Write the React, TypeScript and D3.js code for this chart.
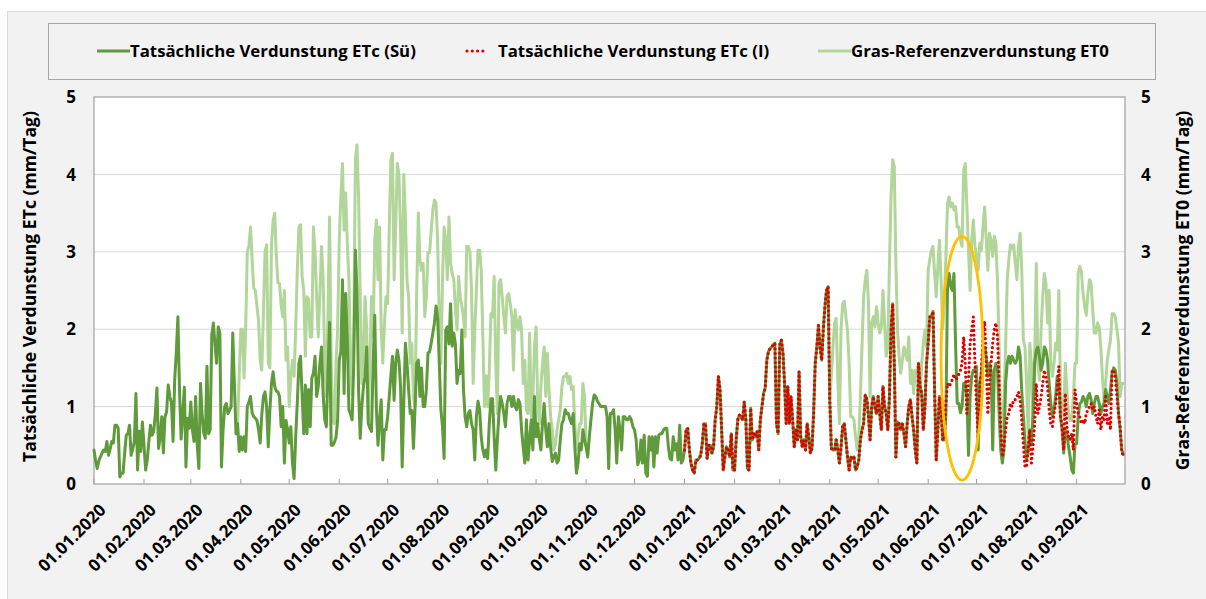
import * as d3 from "d3";

// daily values, mm/Tag
// ETc (Sü) 01.01.2020 - 31.12.2020
const etcSu2020 = [
  // Jan
  0.44, 0.30, 0.20, 0.30, 0.35, 0.40, 0.44, 0.42, 0.55, 0.37, 0.45, 0.55, 0.53, 0.76, 0.76, 0.72, 0.09, 0.14, 0.14, 0.40, 0.63, 0.65, 0.76, 0.37, 0.45, 0.55, 1.17, 0.18, 0.68, 0.42, 0.80,
  // Feb
  0.50, 0.18, 0.31, 0.55, 0.76, 0.63, 0.68, 0.90, 1.24, 0.46, 0.60, 0.87, 0.40, 0.87, 0.93, 1.28, 1.13, 1.05, 0.55, 1.34, 1.70, 2.16, 1.20, 0.58, 0.90, 1.25, 0.22, 0.85, 0.72,
  // Mar
  1.06, 0.70, 0.55, 1.13, 0.50, 0.20, 1.30, 0.90, 0.66, 0.59, 1.52, 0.65, 0.70, 1.93, 2.08, 1.80, 1.56, 2.03, 1.95, 0.22, 0.70, 1.00, 1.04, 0.91, 0.95, 1.00, 1.95, 1.30, 0.65, 0.78, 0.42,
  // Apr
  0.61, 0.44, 0.61, 0.42, 1.00, 1.06, 1.13, 0.92, 0.87, 0.85, 0.82, 0.70, 0.53, 0.90, 1.13, 1.19, 1.00, 0.48, 0.95, 1.30, 1.45, 1.26, 1.20, 1.19, 1.13, 0.74, 1.00, 0.27, 0.82, 0.70,
  // May
  0.53, 0.74, 0.27, 0.07, 0.60, 1.06, 1.56, 1.65, 1.13, 0.65, 1.28, 0.65, 1.22, 0.74, 1.37, 1.43, 1.65, 1.13, 1.26, 1.56, 1.77, 1.17, 0.83, 0.74, 1.43, 2.09, 0.50, 0.50, 0.54, 0.60, 0.83,
  // Jun
  1.60, 1.71, 2.64, 1.17, 2.46, 1.90, 0.96, 0.90, 0.83, 1.56, 3.02, 2.50, 1.20, 0.59, 1.00, 1.26, 1.39, 1.77, 0.78, 0.72, 0.68, 1.56, 2.18, 1.00, 0.50, 0.83, 1.09, 0.31, 0.70, 0.70,
  // Jul
  0.87, 1.13, 1.40, 1.65, 1.08, 1.56, 1.73, 1.60, 1.26, 0.22, 1.04, 1.82, 1.56, 1.22, 0.91, 0.95, 0.46, 1.00, 1.56, 1.60, 1.13, 1.50, 1.00, 1.00, 1.22, 1.69, 1.71, 1.82, 1.95, 2.08, 2.30,
  // Aug
  2.15, 1.56, 0.96, 0.74, 0.33, 1.99, 2.03, 1.81, 2.33, 1.78, 1.95, 1.81, 1.30, 1.47, 1.43, 1.99, 1.22, 0.87, 0.74, 0.91, 0.95, 0.78, 0.70, 0.31, 0.87, 1.07, 0.96, 0.60, 0.44, 0.35, 0.44,
  // Sep
  0.33, 0.78, 1.10, 1.10, 0.61, 0.18, 0.57, 0.91, 1.13, 1.04, 0.91, 0.74, 1.04, 1.13, 1.13, 1.00, 1.13, 1.00, 0.96, 1.09, 1.04, 0.70, 0.48, 0.27, 0.83, 0.31, 0.57, 0.83, 0.44, 1.13,
  // Oct
  0.61, 0.78, 0.57, 0.44, 0.80, 1.04, 0.70, 0.48, 0.78, 0.48, 0.29, 0.35, 0.40, 0.27, 0.31, 0.57, 0.78, 0.83, 0.96, 0.91, 0.91, 0.83, 0.78, 0.91, 0.48, 0.14, 0.27, 0.52, 0.44, 0.70, 0.57,
  // Nov
  0.48, 0.35, 0.61, 0.83, 1.04, 1.15, 1.13, 1.07, 1.04, 1.00, 1.00, 1.00, 1.00, 0.87, 0.20, 0.91, 0.91, 0.96, 0.70, 0.27, 0.87, 0.70, 0.44, 0.87, 0.87, 0.83, 0.83, 0.87, 0.83, 0.74,
  // Dec
  0.70, 0.57, 0.25, 0.31, 0.57, 0.27, 0.63, 0.14, 0.10, 0.61, 0.44, 0.61, 0.22, 0.61, 0.40, 0.63, 0.65, 0.65, 0.70, 0.72, 0.72, 0.48, 0.33, 0.31, 0.61, 0.44, 0.52, 0.31, 0.76, 0.27, 0.31,
];

// 01.01.2021 - 31.05.2021: (Sü) and (I) lie on top of each other
const etcCommon2021 = [
  // Jan
  0.44, 0.70, 0.72, 0.44, 0.27, 0.18, 0.14, 0.31, 0.31, 0.33, 0.37, 0.52, 0.78, 0.78, 0.33, 0.50, 0.50, 0.40, 0.48, 0.83, 1.00, 1.39, 1.22, 0.70, 0.18, 0.35, 0.48, 0.44, 0.35, 0.65, 0.18,
  // Feb
  0.18, 0.57, 0.83, 0.89, 0.87, 0.83, 1.06, 0.83, 0.20, 0.18, 0.98, 0.57, 0.65, 0.61, 0.68, 0.44, 0.83, 1.00, 1.17, 1.24, 1.60, 1.71, 1.75, 1.77, 1.80, 1.82, 0.78, 0.65,
  // Mar
  1.80, 1.86, 1.70, 1.30, 0.78, 1.26, 0.78, 1.13, 0.83, 0.48, 0.70, 0.57, 1.45, 0.61, 0.48, 0.57, 0.44, 0.78, 0.61, 0.40, 0.46, 0.91, 1.56, 1.77, 2.05, 1.77, 1.60, 1.99, 2.29, 2.50, 2.55,
  // Apr
  1.10, 0.46, 0.44, 0.44, 0.57, 0.44, 0.27, 0.48, 0.74, 0.78, 0.57, 0.35, 0.18, 0.35, 0.33, 0.35, 0.18, 0.22, 0.31, 0.57, 0.70, 0.78, 1.15, 1.10, 0.88, 0.57, 1.00, 1.13, 1.00, 0.91,
  // May
  1.13, 0.91, 0.70, 1.26, 1.00, 0.91, 0.70, 1.13, 2.00, 2.33, 1.56, 0.35, 0.80, 0.78, 0.70, 0.78, 0.65, 0.48, 0.78, 1.00, 1.09, 0.87, 0.70, 0.44, 0.27, 1.56, 1.26, 1.17, 0.70, 1.00, 1.56,
];

// 01.06.2021 - 30.09.2021
const etcSuSummer2021 = [
  // Jun
  1.82, 2.16, 2.16, 2.23, 1.20, 0.31, 0.70, 1.13, 0.96, 0.57, 0.57, 0.90, 2.55, 2.72, 2.55, 2.50, 2.72, 1.80, 1.04, 1.04, 0.92, 1.00, 1.30, 1.30, 1.13, 0.37, 1.13, 1.39, 1.47, 1.47,
  // Jul
  1.52, 0.44, 1.30, 1.43, 1.73, 1.77, 1.65, 1.39, 1.56, 1.47, 0.44, 1.47, 1.56, 1.47, 0.91, 0.44, 0.27, 0.44, 1.30, 1.56, 1.65, 1.56, 1.65, 1.60, 1.56, 1.60, 1.77, 1.65, 1.20, 0.87, 0.55,
  // Aug
  0.31, 0.44, 0.70, 0.52, 0.91, 1.56, 1.73, 1.77, 1.65, 1.47, 1.56, 1.77, 1.73, 1.60, 1.30, 1.04, 0.87, 0.95, 1.13, 1.39, 1.30, 0.87, 0.70, 0.40, 0.70, 0.65, 0.48, 0.35, 0.18, 0.14, 0.52,
  // Sep
  0.52, 0.87, 1.04, 1.06, 1.13, 1.09, 1.00, 1.13, 1.17, 1.09, 0.91, 1.04, 1.13, 1.13, 1.04, 0.91, 1.00, 1.04, 1.22, 1.13, 1.04, 1.22, 1.43, 1.50, 1.47, 1.30, 0.91, 0.70, 0.44, 0.38,
];

const etcISummer2021 = [
  // Jun
  1.82, 2.16, 2.16, 2.23, 1.20, 0.31, 0.70, 1.13, 0.96, 0.57, 0.57, 1.04, 1.30, 1.26, 1.30, 1.35, 1.42, 1.35, 1.37, 1.42, 1.47, 1.56, 1.90, 1.56, 0.91, 1.35, 1.82, 1.99, 2.16, 1.56,
  // Jul
  1.00, 0.61, 1.22, 1.47, 1.95, 2.10, 1.60, 0.90, 1.30, 1.56, 1.82, 2.00, 2.08, 1.90, 1.30, 0.70, 0.35, 0.48, 0.70, 0.87, 0.91, 1.04, 1.00, 1.09, 1.09, 1.13, 1.19, 1.09, 0.83, 0.52, 0.22,
  // Aug
  0.22, 0.48, 0.70, 0.27, 0.48, 0.78, 1.30, 0.91, 1.00, 1.13, 1.30, 1.47, 1.39, 1.26, 0.96, 0.78, 0.74, 0.91, 1.04, 1.22, 1.52, 0.87, 0.74, 0.44, 1.17, 0.74, 0.61, 0.57, 0.65, 0.44, 1.22,
  // Sep
  1.04, 0.91, 0.87, 0.78, 0.83, 0.78, 0.91, 0.96, 1.00, 1.04, 0.96, 1.00, 0.87, 0.78, 0.96, 0.70, 0.87, 0.83, 1.13, 0.78, 0.87, 0.70, 1.47, 1.47, 1.39, 1.13, 0.91, 0.74, 0.40, 0.38,
];

// ET0 where it leaves the ETc line: 30.03.2020 - 01.11.2020
const et0Season2020 = [
  // 30.-31. Mar
  0.78, 1.40,
  // Apr
  2.00, 2.00, 1.37, 2.00, 3.00, 3.07, 3.32, 2.90, 2.53, 2.50, 2.30, 2.10, 1.60, 1.47, 2.20, 3.00, 3.09, 1.56, 1.50, 3.10, 3.40, 3.50, 2.94, 2.60, 2.59, 2.30, 2.16, 2.50, 1.60, 1.77,
  // May
  1.00, 1.39, 1.60, 1.39, 2.00, 2.76, 3.32, 3.35, 2.68, 2.50, 1.65, 2.42, 2.38, 1.90, 1.90, 3.32, 2.99, 2.42, 1.90, 2.46, 3.07, 2.68, 1.56, 1.13, 2.16, 3.45, 1.56, 0.82, 0.78, 1.56, 2.00,
  // Jun
  3.15, 3.71, 4.14, 3.28, 3.76, 3.10, 2.64, 1.60, 1.15, 2.00, 4.20, 4.38, 3.70, 2.42, 1.30, 1.65, 2.42, 2.00, 0.82, 1.60, 2.42, 1.90, 3.15, 3.41, 2.64, 3.32, 2.00, 1.56, 2.07, 2.42,
  // Jul
  2.33, 3.28, 4.19, 4.27, 2.64, 3.32, 4.14, 4.00, 3.28, 1.95, 4.00, 3.45, 2.64, 2.42, 1.56, 1.82, 1.13, 1.00, 2.50, 3.50, 2.90, 2.76, 2.85, 2.16, 2.42, 2.99, 2.99, 3.28, 3.54, 3.67, 3.63,
  // Aug
  3.11, 2.16, 1.56, 2.64, 3.32, 3.15, 2.64, 3.45, 2.85, 2.72, 2.64, 2.25, 1.99, 2.68, 2.42, 2.30, 2.16, 1.90, 3.07, 3.07, 3.00, 2.50, 1.30, 1.99, 2.50, 3.02, 3.02, 2.77, 1.90, 1.00, 1.40,
  // Sep
  1.00, 1.47, 2.20, 2.16, 2.68, 1.56, 0.91, 2.59, 2.64, 2.42, 2.16, 1.95, 2.42, 2.46, 2.33, 2.16, 1.47, 2.25, 2.07, 1.99, 2.16, 1.99, 1.30, 1.60, 0.95, 0.91, 1.95, 0.87, 1.13, 1.77,
  // Oct
  2.03, 1.04, 0.78, 1.26, 1.56, 1.77, 1.13, 1.69, 1.22, 0.87, 0.70, 0.44, 0.52, 0.70, 0.83, 0.96, 1.26, 1.39, 1.39, 1.43, 1.30, 1.39, 1.22, 1.26, 0.78, 0.44, 0.61, 0.78, 0.78, 1.30, 1.13,
  // 01. Nov
  0.48,
];

// ET0 01.04.2021 - 30.09.2021
const et0Season2021 = [
  // Apr
  1.10, 1.39, 1.77, 2.08, 2.14, 1.34, 0.78, 1.99, 2.33, 2.36, 2.16, 1.99, 1.56, 0.87, 0.87, 0.83, 0.61, 0.44, 0.61, 1.13, 1.77, 2.42, 2.64, 2.76, 2.33, 1.13, 2.08, 2.16, 2.03, 2.29,
  // May
  2.08, 1.95, 2.03, 2.50, 2.08, 1.65, 1.77, 2.85, 3.71, 4.19, 4.10, 2.85, 1.99, 1.65, 1.43, 1.60, 1.77, 1.69, 1.60, 1.90, 1.30, 1.47, 1.17, 1.47, 1.43, 1.56, 1.13, 1.56, 1.82, 1.99, 1.77,
  // Jun
  2.76, 2.90, 3.02, 3.07, 2.72, 2.42, 2.80, 3.15, 2.64, 2.00, 2.33, 2.94, 3.63, 3.71, 3.58, 3.63, 3.54, 3.58, 3.32, 3.32, 3.15, 3.07, 4.06, 4.14, 3.58, 3.02, 2.50, 3.15, 3.41, 3.07,
  // Jul
  2.94, 2.76, 3.11, 3.02, 3.32, 3.58, 3.15, 2.76, 3.24, 3.15, 2.94, 3.20, 3.11, 2.60, 1.77, 0.60, 0.52, 1.13, 1.77, 2.64, 2.90, 3.09, 3.04, 3.09, 2.85, 2.64, 3.07, 3.24, 2.76, 1.86, 1.77,
  // Aug
  1.30, 0.60, 1.82, 1.56, 0.80, 1.56, 2.85, 1.56, 1.34, 2.00, 2.42, 2.72, 2.59, 2.08, 2.50, 1.56, 1.39, 1.56, 1.82, 1.73, 2.50, 1.21, 0.95, 0.87, 1.56, 1.21, 0.91, 0.82, 0.82, 1.13, 1.56,
  // Sep
  1.56, 2.72, 2.81, 2.74, 2.46, 2.29, 2.18, 2.46, 2.64, 2.59, 2.25, 1.95, 1.95, 2.08, 2.03, 1.77, 1.39, 1.08, 1.30, 1.60, 1.73, 1.86, 2.20, 2.20, 2.16, 1.99, 1.82, 1.13, 1.30, 1.30,
];

const yTicks = [0, 1, 2, 3, 4, 5];
const legendLabels = [
  "Tatsächliche Verdunstung ETc (Sü)",
  "Tatsächliche Verdunstung ETc (I)",
  "Gras-Referenzverdunstung ET0",
];
const leftTitle = "Tatsächliche Verdunstung ETc (mm/Tag)";
const rightTitle = "Gras-Referenzverdunstung ET0 (mm/Tag)";
// the orange ring drawn around late June 2021
const highlight = { from: "2021-06-09", to: "2021-07-05", low: 0.05, high: 3.2 };

const W = 1206;
const H = 599;
const PLOT = { left: 94, right: 1125, top: 97, bottom: 484 };
const FONT = "'Open Sans', 'Liberation Sans', sans-serif";

const C_SU = "#5f9a3b";
const C_I = "#e00000";
const C_ET0 = "#b2d59a";

type Pt = { date: Date; v: number };

const utc = (s: string) => new Date(s + "T00:00:00Z");

function daily(start: string, values: number[]): Pt[] {
  const t0 = utc(start);
  return values.map((v, i) => ({ date: d3.utcDay.offset(t0, i), v }));
}

export default function App() {
  const x = d3
    .scaleUtc()
    .domain([utc("2020-01-01"), utc("2021-10-01")])
    .range([PLOT.left, PLOT.right]);
  const y = d3.scaleLinear().domain([0, 5]).range([PLOT.bottom, PLOT.top]);
  const yRight = d3.scaleLinear().domain([0, 5]).range([PLOT.bottom, PLOT.top]);

  const su = daily("2020-01-01", [...etcSu2020, ...etcCommon2021, ...etcSuSummer2021]);
  const irr = daily("2021-01-01", [...etcCommon2021, ...etcISummer2021]);
  const et0a = daily("2020-03-30", et0Season2020);
  const et0b = daily("2021-04-01", et0Season2021);

  const lineL = d3
    .line<Pt>()
    .x((d) => x(d.date))
    .y((d) => y(d.v));
  const lineR = d3
    .line<Pt>()
    .x((d) => x(d.date))
    .y((d) => yRight(d.v));

  const months = d3.utcMonth.range(utc("2020-01-01"), utc("2021-10-01"));
  const fmt = d3.utcFormat("%d.%m.%Y");

  const ex0 = x(utc(highlight.from));
  const ex1 = x(utc(highlight.to));
  const ey0 = y(highlight.high);
  const ey1 = y(highlight.low);

  const legendX = [97, 465, 818];

  return (
    <div>
      <style>{"body{margin:0}"}</style>
      <svg width={W} height={H} style={{ display: "block", fontFamily: FONT }}>
        <rect x={0} y={0} width={W} height={H} fill="#fff" />
        <rect x={7.5} y={11.5} width={W - 7} height={H - 11} fill="#f2f2f2" stroke="#d9d9d9" />

        {/* legend */}
        <rect x={48.5} y={23.5} width={1107} height={56} fill="#f2f2f2" stroke="#a6a6a6" />
        {legendLabels.map((label, i) => {
          const lx = legendX[i];
          return (
            <g key={label}>
              {i === 1 ? (
                <line x1={lx + 2} x2={lx + 18} y1={51} y2={51} stroke={C_I} strokeWidth={3.2}
                  strokeLinecap="round" strokeDasharray="0 5.3" />
              ) : (
                <line x1={lx} x2={lx + 33} y1={51} y2={51} stroke={i === 0 ? C_SU : C_ET0} strokeWidth={3} />
              )}
              <text x={lx + 33} y={51} dy="0.36em" fontSize={16.8} fontWeight={700} fill="#000">
                {label}
              </text>
            </g>
          );
        })}

        {/* plot area */}
        <rect x={PLOT.left} y={PLOT.top} width={PLOT.right - PLOT.left} height={PLOT.bottom - PLOT.top}
          fill="#fff" />
        {yTicks.slice(1, -1).map((t) => (
          <line key={t} x1={PLOT.left} x2={PLOT.right} y1={y(t)} y2={y(t)} stroke="#d9d9d9" strokeWidth={1} />
        ))}
        <rect x={PLOT.left} y={PLOT.top} width={PLOT.right - PLOT.left} height={PLOT.bottom - PLOT.top}
          fill="none" stroke="#a0a0a0" strokeWidth={1.2} />

        {/* month ticks */}
        {months.map((m) => (
          <line key={+m} x1={x(m)} x2={x(m)} y1={PLOT.bottom} y2={PLOT.bottom - 5} stroke="#a0a0a0" />
        ))}

        {/* series */}
        <g fill="none" strokeLinejoin="round" strokeLinecap="round">
          <path d={lineR(et0a) ?? ""} stroke={C_ET0} strokeWidth={3} />
          <path d={lineR(et0b) ?? ""} stroke={C_ET0} strokeWidth={3} />
          <path d={lineL(su) ?? ""} stroke={C_SU} strokeWidth={3} />
          <path d={lineL(irr) ?? ""} stroke={C_I} strokeWidth={3.2} strokeDasharray="0 4.6" />
        </g>

        <ellipse cx={(ex0 + ex1) / 2} cy={(ey0 + ey1) / 2} rx={(ex1 - ex0) / 2} ry={(ey1 - ey0) / 2}
          fill="none" stroke="#ffc000" strokeWidth={2.8} />

        {/* y tick labels */}
        {yTicks.map((t) => (
          <g key={t} fontSize={17} fontWeight={700} fill="#000">
            <text x={76} y={y(t)} dy="0.36em" textAnchor="end">{t}</text>
            <text x={1141} y={yRight(t)} dy="0.36em" textAnchor="start">{t}</text>
          </g>
        ))}

        {/* x tick labels */}
        {months.map((m) => {
          const tx = x(m) + 13;
          const ty = 511;
          return (
            <text key={+m} x={tx} y={ty} transform={`rotate(-45 ${tx} ${ty})`} textAnchor="end"
              fontSize={17} fontWeight={700} fill="#000">
              {fmt(m)}
            </text>
          );
        })}

        {/* axis titles */}
        <text transform={`translate(36 ${(PLOT.top + PLOT.bottom) / 2 - 4}) rotate(-90)`} textAnchor="middle"
          fontSize={17.6} fontWeight={700} fill="#000">
          {leftTitle}
        </text>
        <text transform={`translate(1189 ${(PLOT.top + PLOT.bottom) / 2}) rotate(-90)`} textAnchor="middle"
          fontSize={17.6} fontWeight={700} fill="#000">
          {rightTitle}
        </text>
      </svg>
    </div>
  );
}
